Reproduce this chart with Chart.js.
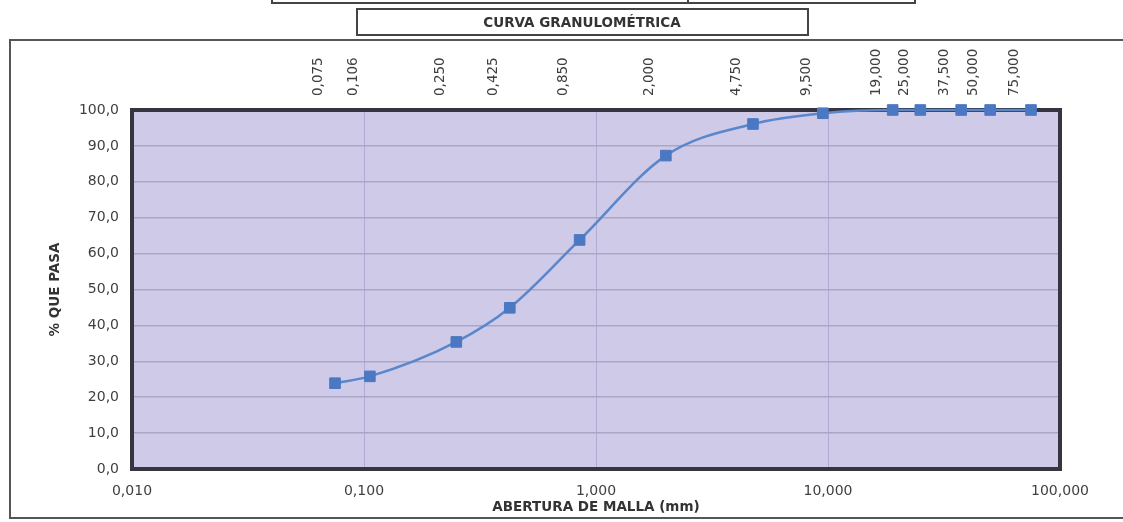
<!DOCTYPE html>
<html>
<head>
<meta charset="utf-8">
<script src="https://cdn.jsdelivr.net/npm/chart.js@4.4.0/dist/chart.umd.min.js"></script>
<style>
  html, body { margin: 0; padding: 0; background: #ffffff; }
  #wrap { position: relative; width: 1123px; height: 522px; }
</style>
</head>
<body>
<div id="wrap"><canvas id="c" width="1123" height="522"></canvas></div>
<script>
// Grain-size distribution (sieve analysis)
const chartTitle = 'CURVA GRANULOMÉTRICA';
const xAxisTitle = 'ABERTURA DE MALLA (mm)';
const yAxisTitle = '% QUE PASA';

// sieve openings (mm) and cumulative % passing
const sieveSizes = [0.075, 0.106, 0.25, 0.425, 0.85, 2.0, 4.75, 9.5, 19, 25, 37.5, 50, 75];
const percentPassing = [23.9, 25.8, 35.4, 44.9, 63.8, 87.3, 96.1, 99.1, 100, 100, 100, 100, 100];
const sieveLabels = ['0,075', '0,106', '0,250', '0,425', '0,850', '2,000', '4,750', '9,500',
                     '19,000', '25,000', '37,500', '50,000', '75,000'];

// bottom (log) axis decades and left axis ticks
const decadeTicks = [0.01, 0.1, 1, 10, 100];
const decadeLabels = ['0,010', '0,100', '1,000', '10,000', '100,000'];
const yTicks = [0, 10, 20, 30, 40, 50, 60, 70, 80, 90, 100];
const yTickLabels = ['0,0', '10,0', '20,0', '30,0', '40,0', '50,0', '60,0', '70,0', '80,0', '90,0', '100,0'];

const FONT = 'DejaVu Sans';
const TEXT = '#3f3f3f';

const points = sieveSizes.map((s, i) => ({ x: s, y: percentPassing[i] }));

// page furniture: frame, heading boxes and plot fill
const backdrop = {
  id: 'backdrop',
  beforeDraw(chart) {
    const ctx = chart.ctx;
    const a = chart.chartArea;
    ctx.save();
    ctx.fillStyle = '#ffffff';
    ctx.fillRect(0, 0, chart.width, chart.height);

    ctx.strokeStyle = '#555555';
    ctx.lineWidth = 2;
    // outer frame
    ctx.beginPath();
    ctx.moveTo(1125, 40); ctx.lineTo(10, 40); ctx.lineTo(10, 518); ctx.lineTo(1125, 518);
    ctx.stroke();

    // heading row above
    ctx.strokeStyle = '#444444';
    ctx.beginPath();
    ctx.moveTo(272, -2); ctx.lineTo(272, 3); ctx.lineTo(915, 3); ctx.lineTo(915, -2);
    ctx.moveTo(688, -2); ctx.lineTo(688, 3);
    ctx.stroke();

    // title box
    ctx.fillStyle = '#ffffff';
    ctx.fillRect(357, 9, 451, 26);
    ctx.strokeRect(357, 9, 451, 26);
    ctx.fillStyle = '#333333';
    ctx.font = 'bold 13.5px "' + FONT + '"';
    ctx.textAlign = 'center';
    ctx.textBaseline = 'middle';
    ctx.fillText(chartTitle, 582, 23);

    // plot area fill
    ctx.fillStyle = '#cecae7';
    ctx.fillRect(a.left, a.top, a.right - a.left, a.bottom - a.top);
    ctx.restore();
  },
  beforeDatasetsDraw(chart) {
    const ctx = chart.ctx;
    const a = chart.chartArea;
    ctx.save();
    ctx.strokeStyle = '#35343f';
    ctx.lineWidth = 4;
    ctx.strokeRect(a.left, a.top, a.right - a.left, a.bottom - a.top);
    ctx.restore();
  }
};

new Chart(document.getElementById('c'), {
  type: 'scatter',
  data: {
    datasets: [{
      data: points,
      showLine: true,
      borderColor: '#5a86cc',
      borderWidth: 2.5,
      tension: 0.4,
      cubicInterpolationMode: 'monotone',
      pointStyle: 'rect',
      pointRadius: 7.5,
      pointBackgroundColor: '#4b78c3',
      pointBorderColor: '#4b78c3',
      pointBorderWidth: 1,
      clip: false
    }]
  },
  options: {
    responsive: false,
    devicePixelRatio: 1,
    animation: false,
    layout: { padding: { left: 0, top: 0, right: 63, bottom: 0 } },
    plugins: { legend: { display: false }, tooltip: { enabled: false } },
    scales: {
      x: {
        type: 'logarithmic',
        position: 'bottom',
        min: 0.01,
        max: 100,
        afterBuildTicks(s) { s.ticks = decadeTicks.map(v => ({ value: v })); },
        afterFit(s) { s.height = 53; },
        ticks: {
          autoSkip: false,
          maxRotation: 0,
          padding: 14,
          color: TEXT,
          font: { family: FONT, size: 14 },
          callback: (v) => decadeLabels[decadeTicks.indexOf(v)]
        },
        grid: { color: '#b0acd4', lineWidth: 1, drawTicks: false },
        border: { display: false },
        title: {
          display: true,
          text: xAxisTitle,
          color: '#333333',
          font: { family: FONT, size: 13.5, weight: 'bold' },
          padding: { top: 0, bottom: 6 }
        }
      },
      x2: {
        type: 'logarithmic',
        position: 'top',
        min: 0.01,
        max: 100,
        afterBuildTicks(s) { s.ticks = sieveSizes.map(v => ({ value: v })); },
        afterFit(s) { s.height = 110; },
        ticks: {
          autoSkip: false,
          minRotation: 90,
          maxRotation: 90,
          padding: 14,
          color: TEXT,
          font: { family: FONT, size: 13.5 },
          callback: (v, i) => sieveLabels[i]
        },
        grid: { display: false, drawTicks: false },
        border: { display: false }
      },
      y: {
        min: 0,
        max: 100,
        afterBuildTicks(s) { s.ticks = yTicks.map(v => ({ value: v })); },
        afterFit(s) { s.width = 132; },
        ticks: {
          autoSkip: false,
          padding: 13,
          color: TEXT,
          font: { family: FONT, size: 14 },
          callback: (v) => yTickLabels[yTicks.indexOf(v)]
        },
        grid: { color: '#aaa6c8', lineWidth: 1.5, drawTicks: false },
        border: { display: false },
        title: {
          display: true,
          text: yAxisTitle,
          color: '#333333',
          font: { family: FONT, size: 13.5, weight: 'bold' },
          padding: { top: 47, bottom: 0 }
        }
      }
    }
  },
  plugins: [backdrop]
});
</script>
</body>
</html>
